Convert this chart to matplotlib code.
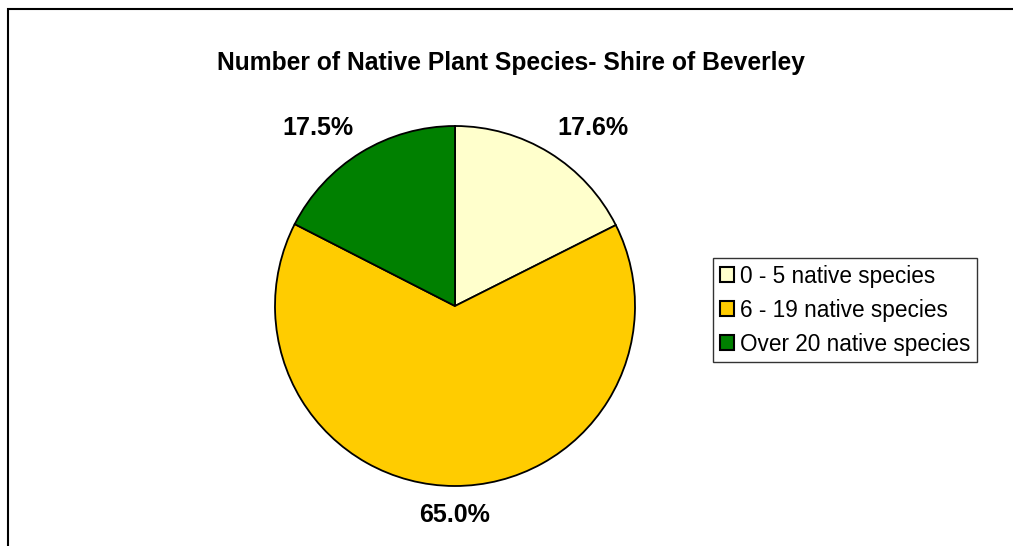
import matplotlib
matplotlib.use("Agg")
import numpy as np
import matplotlib.pyplot as plt
from matplotlib.patches import Rectangle, Patch

# Data
categories = ["0 - 5 native species", "6 - 19 native species", "Over 20 native species"]
shares = [17.6, 65.0, 17.5]
colors = ["#FFFFCC", "#FFCC00", "#008000"]

W, H = 1013, 546
fig = plt.figure(figsize=(W / 100, H / 100), dpi=100)
plt.rcParams["font.family"] = ["Liberation Sans", "DejaVu Sans"]

# pixel coordinate axes (y up)
ax = fig.add_axes([0, 0, 1, 1])
ax.set_xlim(0, W)
ax.set_ylim(0, H)
ax.set_aspect("equal")
ax.axis("off")

# outer chart border (only left and top visible, rest is cropped)
ax.add_patch(Rectangle((8, -20), W + 40, H - 9 + 20, fill=False,
                       edgecolor="black", linewidth=1.5))

cx, cy, r = 455, H - 306, 180
wedges, texts = ax.pie(shares, colors=colors, startangle=90, counterclock=False,
                       center=(cx, cy), radius=r,
                       labels=[f"{v:.1f}%" for v in shares], labeldistance=1.16,
                       wedgeprops=dict(edgecolor="black", linewidth=1.3),
                       textprops=dict(fontsize=18, fontweight="bold"))
# push labels sideways like Excel's "outside end" placement
for w, t in zip(wedges, texts):
    ang = np.deg2rad((w.theta1 + w.theta2) / 2)
    x, y = t.get_position()
    t.set_position((x + 0.3 * r * np.cos(ang), y))
    t.set_ha("center")
    t.set_va("center")
ax.set_xlim(0, W)
ax.set_ylim(0, H)

ax.text(511, H - 63, "Number of Native Plant Species- Shire of Beverley",
        ha="center", va="center", fontsize=17.7, fontweight="bold")

handles = [Patch(facecolor=c, edgecolor="black", linewidth=1.5) for c in colors]
leg = fig.legend(handles, categories, loc="upper left",
                 bbox_to_anchor=(713 / W, 1 - 258 / H), fontsize=16.3,
                 frameon=True, fancybox=False, edgecolor="black",
                 handlelength=0.62, handleheight=0.62, handletextpad=0.28,
                 borderpad=0.3, labelspacing=0.48, borderaxespad=0)
leg.get_frame().set_linewidth(1.0)

fig.savefig("out.png", dpi=100)
